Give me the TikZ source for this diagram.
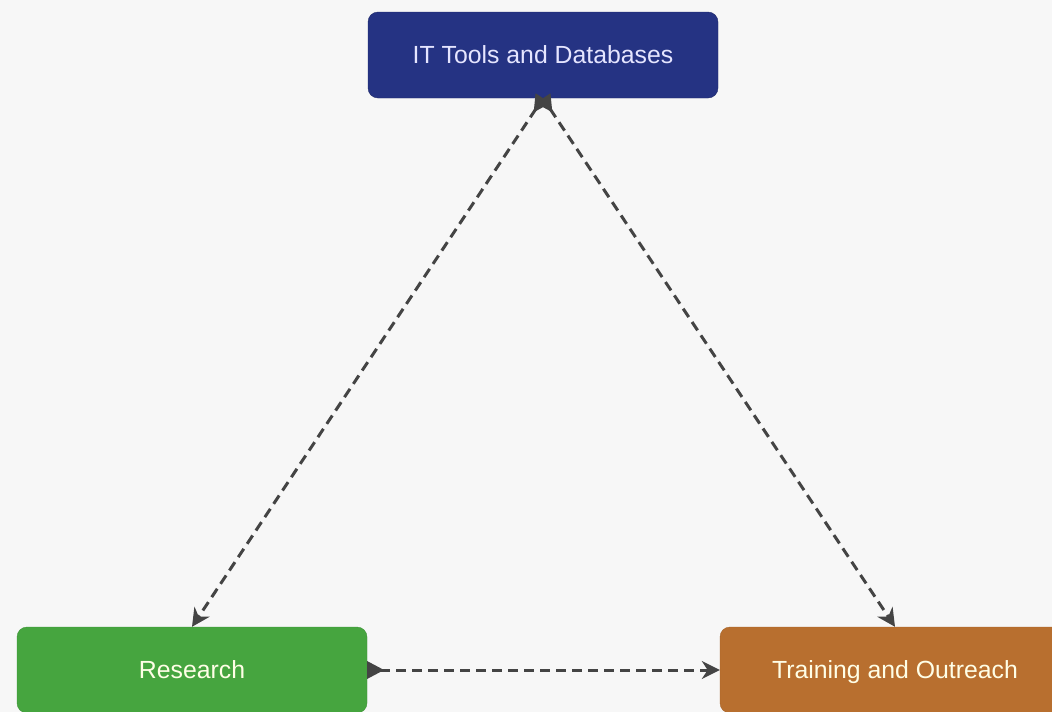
\documentclass[tikz,border=0pt]{standalone}
\usepackage{fontspec}
\setmainfont{Liberation Sans}
\usetikzlibrary{arrows.meta}
\definecolor{bg}{HTML}{F7F7F7}
\definecolor{itblue}{HTML}{253383}
\definecolor{resgreen}{HTML}{46A53F}
\definecolor{trorange}{HTML}{B86F2F}
\definecolor{edgegray}{HTML}{444444}
\tikzset{
  box/.style={rounded corners=10pt, minimum width=350pt, minimum height=86pt, inner sep=0pt,
    text height=20pt, text depth=3pt,
    font=\fontsize{24.8}{29}\selectfont},
  link/.style={draw=edgegray, line width=3pt, dash pattern=on 10pt off 6pt,
    {Triangle[reversed,length=17pt,width=17pt]}-{Stealth[length=18pt,width=18pt]}}
}
\begin{document}
\begin{tikzpicture}[x=1pt,y=-1pt]
\path[fill=bg] (0,0) rectangle (1052,712);
\useasboundingbox (0,0) rectangle (1052,712);
\clip (0,0) rectangle (1052,712);
\node[box, fill=itblue, draw=itblue!80!black, text=white!90!blue] (it) at (543,55) {IT Tools and Databases};
\node[box, fill=resgreen, draw=resgreen!90!black, text=white!90!yellow] (res) at (192,670) {Research};
\node[box, fill=trorange, draw=trorange!90!black, text=white!90!yellow] (tr) at (895,670) {Training and Outreach};
\draw[link] (it.south) -- (res.north);
\draw[link] (it.south) -- (tr.north);
\draw[link] (res.east) -- (tr.west);
\end{tikzpicture}
\end{document}
